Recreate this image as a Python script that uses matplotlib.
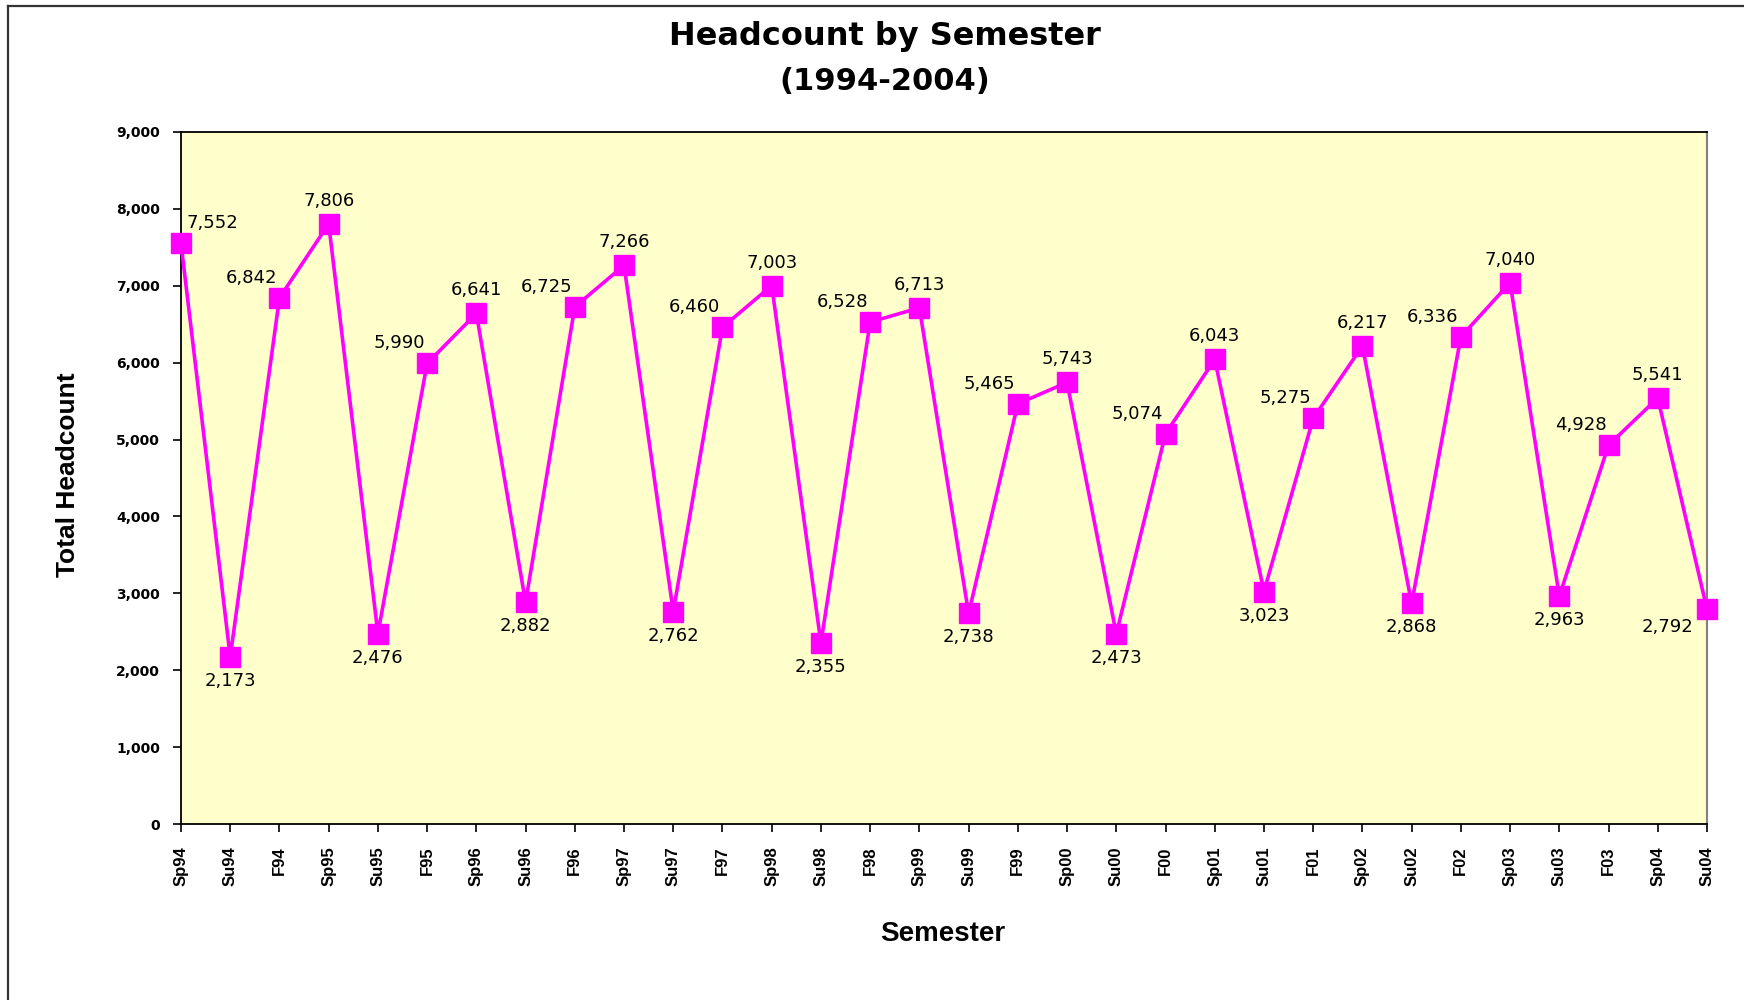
import matplotlib
matplotlib.use("Agg")
import matplotlib.pyplot as plt
from matplotlib.lines import Line2D
from matplotlib.ticker import FuncFormatter, MultipleLocator

plt.rcParams['font.family'] = ['Liberation Sans', 'DejaVu Sans']

semesters = ["Sp94", "Su94", "F94", "Sp95", "Su95", "F95", "Sp96", "Su96", "F96",
             "Sp97", "Su97", "F97", "Sp98", "Su98", "F98", "Sp99", "Su99", "F99",
             "Sp00", "Su00", "F00", "Sp01", "Su01", "F01", "Sp02", "Su02", "F02",
             "Sp03", "Su03", "F03", "Sp04", "Su04"]
headcount = [7552, 2173, 6842, 7806, 2476, 5990, 6641, 2882, 6725,
             7266, 2762, 6460, 7003, 2355, 6528, 6713, 2738, 5465,
             5743, 2473, 5074, 6043, 3023, 5275, 6217, 2868, 6336,
             7040, 2963, 4928, 5541, 2792]
title_line1 = "Headcount by Semester"
title_line2 = "(1994-2004)"
xlabel = "Semester"
ylabel = "Total Headcount"

fig = plt.figure(figsize=(17.44, 10), dpi=100)
ax = fig.add_axes([181/1744, 1-824/1000, (1707-181)/1744, (824-132)/1000])
ax.set_facecolor("#FFFFCC")

x = list(range(len(semesters)))
ax.plot(x, headcount, color="#FF00FF", linewidth=2.6, marker="s",
        markersize=14, markerfacecolor="#FF00FF", markeredgecolor="#FF00FF",
        clip_on=False, zorder=3)

ax.set_xlim(0, len(semesters) - 1)
ax.set_ylim(0, 9000)
ax.yaxis.set_major_locator(MultipleLocator(1000))
ax.yaxis.set_major_formatter(FuncFormatter(lambda v, p: f"{int(v):,}"))
ax.set_xticks(x)
ax.set_xticklabels(semesters, rotation=90, fontsize=12, fontweight="bold")
for lab in ax.get_yticklabels():
    lab.set_fontsize(10)
    lab.set_fontweight("bold")
    lab.set_family(["DejaVu Sans"])
ax.tick_params(axis="y", direction="out", length=6, width=1.2, pad=9, colors="black")
ax.tick_params(axis="x", direction="out", length=6, width=1.2, pad=10, colors="black")
for side in ["left", "bottom", "top"]:
    ax.spines[side].set_color("black")
    ax.spines[side].set_linewidth(1.3)
ax.spines["right"].set_color("#808080")
ax.spines["right"].set_linewidth(1.5)

# data labels
n = len(headcount)
for i, (s, v) in enumerate(zip(semesters, headcount)):
    if i == 0:
        dx, dy = 31, 20
    elif i == n - 1:
        dx, dy = -40, -18
    elif s.startswith("Sp"):
        dx, dy = 0, 23
    elif s.startswith("Su"):
        dx, dy = 0, -24
    else:
        dx, dy = -28, 20
    ax.annotate(f"{v:,}", (i, v), xytext=(dx, dy), textcoords="offset pixels",
                ha="center", va="center", fontsize=13, color="black",
                family=["DejaVu Sans"], annotation_clip=False, zorder=4)

fig.text(0.5075, 1-37/1000, title_line1, ha="center", va="center",
         fontsize=23, fontweight="bold", family=["DejaVu Sans"])
fig.text(0.5075, 1-82/1000, title_line2, ha="center", va="center",
         fontsize=22, fontweight="bold", family=["DejaVu Sans"])
fig.text(943/1744, 1-934/1000, xlabel, ha="center", va="center",
         fontsize=20, fontweight="bold")
fig.text(68/1744, 1-475/1000, ylabel, ha="center", va="center",
         fontsize=19, fontweight="bold", rotation=90)

# chart frame
fig.add_artist(Line2D([8/1744, 8/1744], [0, 1-6/1000], transform=fig.transFigure,
                      color="#333333", linewidth=1.6))
fig.add_artist(Line2D([8/1744, 1], [1-6/1000, 1-6/1000], transform=fig.transFigure,
                      color="#333333", linewidth=1.6))

fig.savefig("out.png", dpi=100)
